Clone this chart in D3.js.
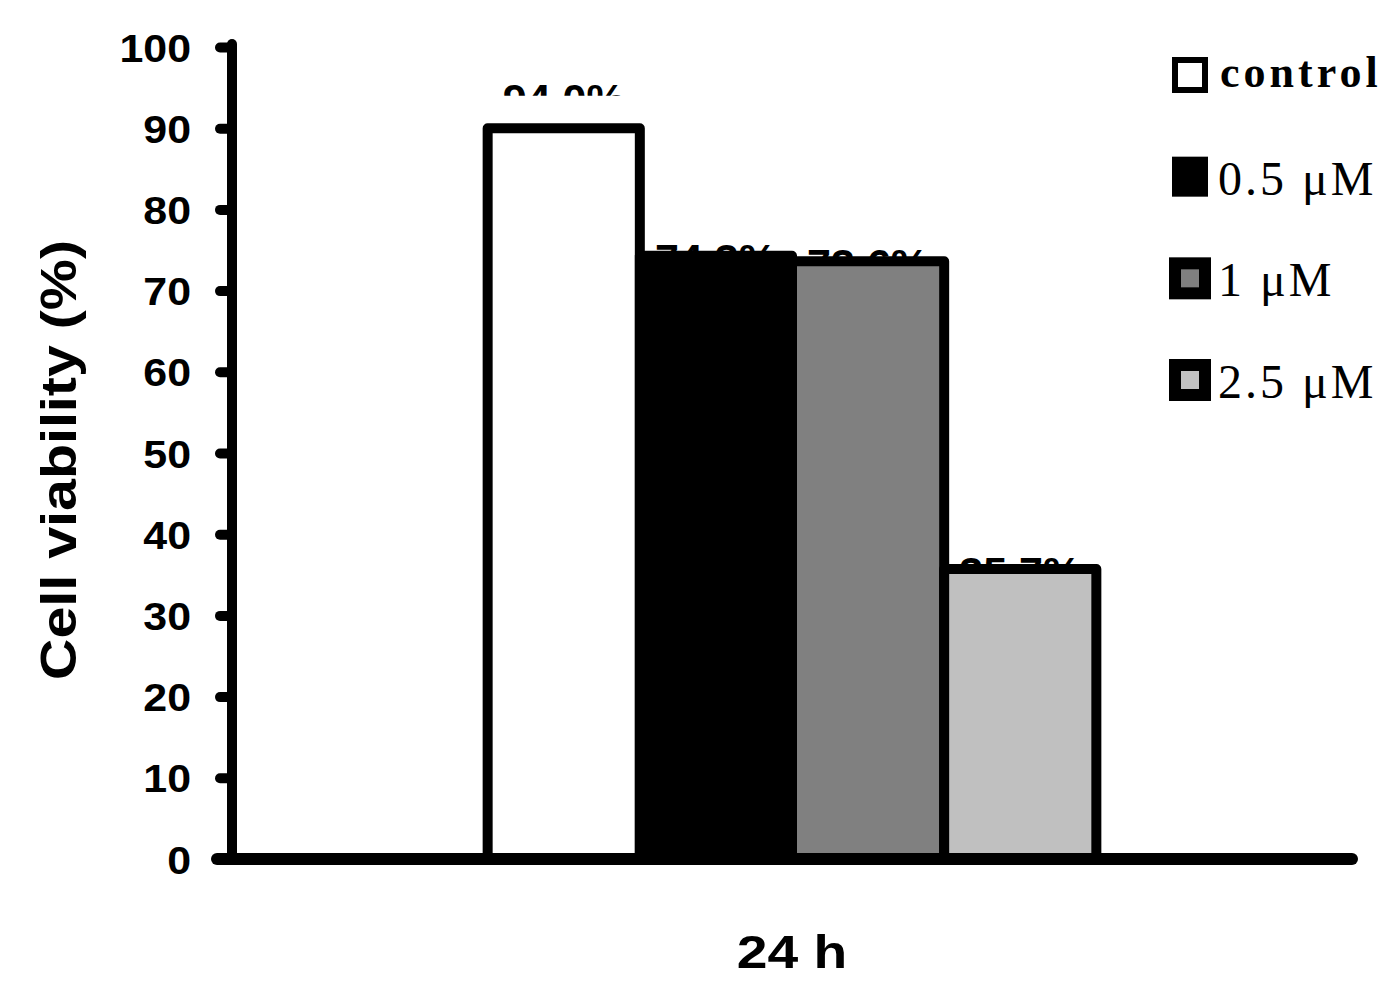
<!DOCTYPE html>
<html>
<head>
<meta charset="utf-8">
<script src="https://cdn.jsdelivr.net/npm/d3@7"></script>
<style>
  body { margin: 0; background: #fff; }
</style>
</head>
<body>
<div id="svg-container"></div>
<script>
// data
const categories = ['24 h']
const seriesNames = ['control', '0.5 \u03bcM', '1 \u03bcM', '2.5 \u03bcM']
const viability = [90, 74.3, 73.6, 35.7]
const labelValues = [94.0, 74.3, 73.6, 35.7]
const labelTexts = ['94.0%', '74.3%', '73.6%', '35.7%']
const yTicks = [0, 10, 20, 30, 40, 50, 60, 70, 80, 90, 100]

const fills = ['#ffffff', '#000000', '#808080', '#c0c0c0']

const width = 1400
const height = 1000
const plotLeft = 232
const plotRight = 1352
const plotTop = 47
const plotBottom = 859
const stroke = 10
const sans = "'Liberation Sans', Arial, sans-serif"
const serif = "'Liberation Serif', 'Times New Roman', serif"

const svg = d3
  .select('#svg-container')
  .append('svg')
  .attr('width', width)
  .attr('height', height)
  .style('background', '#fff')

const yScale = d3.scaleLinear().domain([0, 100]).range([plotBottom, plotTop])

const xScale = d3
  .scaleBand()
  .domain(categories)
  .range([plotLeft, plotRight])
  .paddingInner(0)
  .paddingOuter(0.42)

const seriesScale = d3
  .scaleBand()
  .domain(seriesNames)
  .range([0, xScale.bandwidth()])
  .padding(0)

const colorScale = d3.scaleOrdinal().domain(seriesNames).range(fills)

const rows = seriesNames.map((s, i) => ({
  series: s,
  category: categories[0],
  value: viability[i],
  labelValue: labelValues[i],
  label: labelTexts[i],
}))

// clipped value labels (only the top strip shows)
const defs = svg.append('defs')
rows.forEach((d, i) => {
  defs
    .append('clipPath')
    .attr('id', `lab-clip-${i}`)
    .append('rect')
    .attr('x', xScale(d.category) + seriesScale(d.series) - 20)
    .attr('y', yScale(d.labelValue) - 14)
    .attr('width', seriesScale.bandwidth() + 40)
    .attr('height', 14)
})

svg
  .append('g')
  .selectAll('text')
  .data(rows)
  .join('text')
  .attr('clip-path', (d, i) => `url(#lab-clip-${i})`)
  .attr('x', d => xScale(d.category) + seriesScale(d.series) + seriesScale.bandwidth() / 2)
  .attr('y', d => yScale(d.labelValue) + 18)
  .attr('text-anchor', 'middle')
  .style('font-family', sans)
  .style('font-weight', 'bold')
  .style('font-size', '43px')
  .attr('fill', '#000')
  .text(d => d.label)

// bars
svg
  .append('g')
  .selectAll('rect')
  .data(rows)
  .join('rect')
  .attr('x', d => xScale(d.category) + seriesScale(d.series))
  .attr('y', d => yScale(d.value))
  .attr('width', seriesScale.bandwidth())
  .attr('height', d => yScale(0) - yScale(d.value))
  .attr('fill', d => colorScale(d.series))
  .attr('stroke', '#000')
  .attr('stroke-width', stroke)
  .attr('stroke-linejoin', 'round')

// y axis
const yAxis = svg
  .append('g')
  .attr('transform', `translate(${plotLeft},0)`)
  .call(d3.axisLeft(yScale).tickValues(yTicks).tickSize(12).tickPadding(0))

yAxis.select('.domain').remove()
yAxis
  .append('line')
  .attr('x1', 0)
  .attr('x2', 0)
  .attr('y1', plotTop - 3)
  .attr('y2', plotBottom)
  .attr('stroke', '#000')
  .attr('stroke-width', stroke)
  .attr('stroke-linecap', 'round')
yAxis
  .selectAll('.tick line')
  .attr('stroke', '#000')
  .attr('stroke-width', stroke)
  .attr('stroke-linecap', 'round')
yAxis
  .selectAll('.tick text')
  .attr('x', null)
  .attr('dy', null)
  .attr('transform', 'translate(-41,14) scale(1.1,1)')
  .attr('text-anchor', 'end')
  .style('font-family', sans)
  .style('font-weight', 'bold')
  .style('font-size', '39px')
  .attr('fill', '#000')

// x axis line
svg
  .append('line')
  .attr('x1', plotLeft - 15)
  .attr('x2', plotRight)
  .attr('y1', plotBottom)
  .attr('y2', plotBottom)
  .attr('stroke', '#000')
  .attr('stroke-width', 12)
  .attr('stroke-linecap', 'round')

// category label
svg
  .append('g')
  .selectAll('text')
  .data(categories)
  .join('text')
  .attr(
    'transform',
    d => `translate(${xScale(d) + xScale.bandwidth() / 2},968) scale(1.2,1)`,
  )
  .attr('text-anchor', 'middle')
  .style('font-family', sans)
  .style('font-weight', 'bold')
  .style('font-size', '46px')
  .attr('fill', '#000')
  .text(d => d)

// y title
svg
  .append('text')
  .attr('transform', 'translate(76,460) rotate(-90)')
  .attr('text-anchor', 'middle')
  .style('font-family', sans)
  .style('font-weight', 'bold')
  .style('font-size', '50px')
  .attr('textLength', 440)
  .attr('lengthAdjust', 'spacingAndGlyphs')
  .attr('fill', '#000')
  .text('Cell viability (%)')

// legend
const legendY = d3
  .scalePoint()
  .domain(seriesNames)
  .range([75, 380])

const legend = svg
  .append('g')
  .selectAll('g')
  .data(seriesNames)
  .join('g')
  .attr('transform', d => `translate(1190,${legendY(d)})`)

legend.each(function (d, i) {
  const g = d3.select(this)
  if (i === 0) {
    g.append('rect')
      .attr('x', -15)
      .attr('y', -15)
      .attr('width', 30)
      .attr('height', 30)
      .attr('fill', colorScale(d))
      .attr('stroke', '#000')
      .attr('stroke-width', 6)
  } else if (i === 1) {
    g.append('rect')
      .attr('x', -18)
      .attr('y', -20)
      .attr('width', 36)
      .attr('height', 40)
      .attr('fill', colorScale(d))
  } else {
    g.append('rect')
      .attr('x', -21)
      .attr('y', -21)
      .attr('width', 42)
      .attr('height', 42)
      .attr('fill', '#000')
    g.append('rect')
      .attr('x', -9)
      .attr('y', -9)
      .attr('width', 18)
      .attr('height', 18)
      .attr('fill', colorScale(d))
  }
  g.append('text')
    .attr('x', i === 0 ? 30 : 28)
    .attr('y', i === 0 ? 12 : 18)
    .style('font-family', serif)
    .style('font-weight', i === 0 ? 'bold' : 'normal')
    .style('font-size', i === 0 ? '44px' : '48px')
    .style('letter-spacing', i === 0 ? '4px' : '3px')
    .attr('fill', '#000')
    .text(d)
})
</script>
</body>
</html>
